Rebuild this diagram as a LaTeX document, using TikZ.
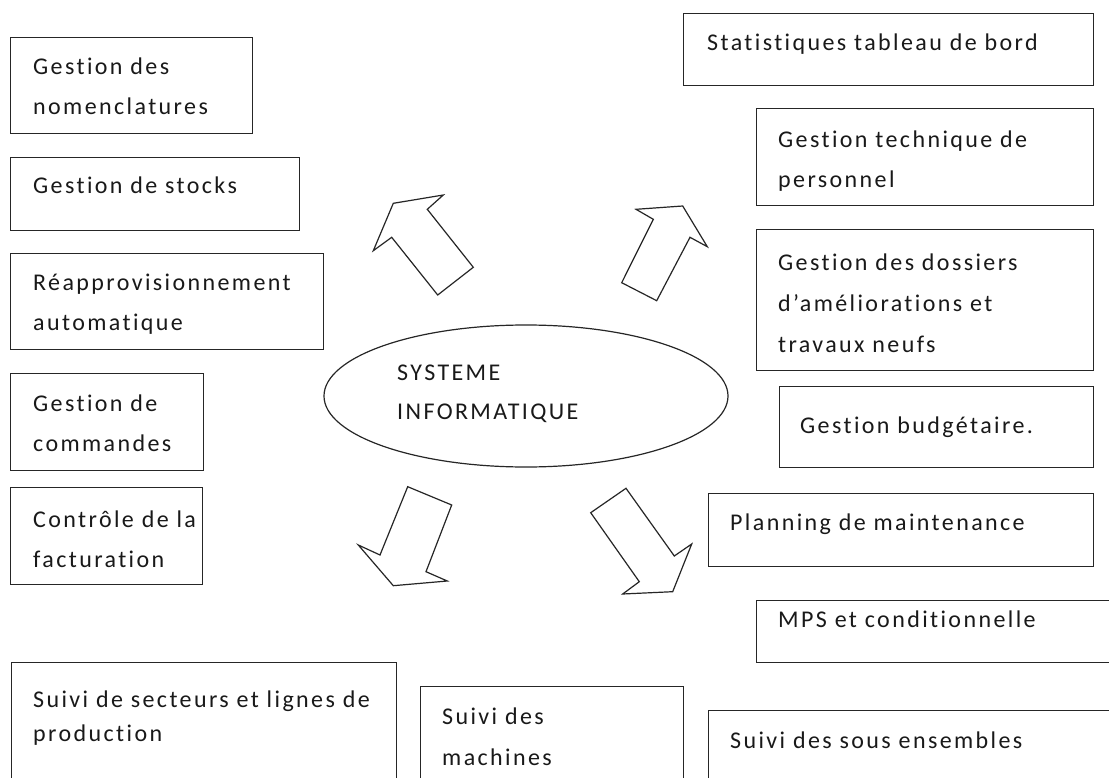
\documentclass[tikz,border=0pt]{standalone}
\usepackage{fontspec}
\setmainfont{Carlito}[LetterSpace=10, Ligatures={NoCommon}]
\usetikzlibrary{shapes.geometric}
\tikzset{
  box/.style={draw=black!85, line width=1.2pt, rectangle, inner sep=0pt, anchor=north west},
  lbl/.style={anchor=north west, inner sep=0pt, align=left, text=black!90,
              font=\fontsize{24}{#1}\selectfont},
  lbl/.default=40,
  blockarrow/.style={draw=black!85, line width=1.2pt, fill=white, line join=miter}
}
% fixed first-line height so the first baseline sits 24pt under the node top
\newcommand{\fl}{\rule{0pt}{24pt}}
\begin{document}
\begin{tikzpicture}[x=1pt, y=-1pt]
\useasboundingbox (0,0) rectangle (1109,778);
\clip (0,0) rectangle (1109,778);
\fill[white] (0,0) rectangle (1109,778);

% left column
\node[box, minimum width=242pt, minimum height=96pt] (nom) at (10,37) {};
\node[lbl] (nomt) at (33,50) {\fl Gestion des\\nomenclatures};
\node[box, minimum width=289pt, minimum height=73pt] (stk) at (10,157) {};
\node[lbl] (stkt) at (33,169) {\fl Gestion de stocks};
\node[box, minimum width=313pt, minimum height=96pt] (rea) at (10,253) {};
\node[lbl] (reat) at (33,266) {\fl Réapprovisionnement\\automatique};
\node[box, minimum width=193pt, minimum height=97pt] (cmd) at (10,373) {};
\node[lbl] (cmdt) at (33,387) {\fl Gestion de\\commandes};
\node[box, minimum width=192pt, minimum height=97pt] (fac) at (10,487) {};
\node[lbl] (fact) at (33,503) {\fl Contrôle de la\\facturation};

% bottom row
\node[box, minimum width=385pt, minimum height=140pt] (sec) at (11,662) {};
\node[lbl=34] (sect) at (33,683) {\fl Suivi de secteurs et lignes de\\production};
\node[box, minimum width=263pt, minimum height=120pt] (mac) at (420,686) {};
\node[lbl=41] (mact) at (442,700) {\fl Suivi des\\machines};
\node[box, minimum width=420pt, minimum height=100pt] (sou) at (708,710) {};
\node[lbl] (sout) at (730,724) {\fl Suivi des sous ensembles};

% right column
\node[box, minimum width=410pt, minimum height=72pt] (sta) at (683,13) {};
\node[lbl] (stat) at (707,26) {\fl Statistiques tableau de bord};
\node[box, minimum width=337pt, minimum height=97pt] (per) at (756,108) {};
\node[lbl] (pert) at (778,123) {\fl Gestion technique de\\personnel};
\node[box, minimum width=337pt, minimum height=141pt] (dos) at (756,229) {};
\node[lbl=41] (dost) at (778,246) {\fl Gestion des dossiers\\d’améliorations et\\travaux neufs};
\node[box, minimum width=314pt, minimum height=81pt] (bud) at (779,386) {};
\node[lbl] (budt) at (800,409) {\fl Gestion budgétaire.};
\node[box, minimum width=385pt, minimum height=73pt] (pla) at (708,493) {};
\node[lbl] (plat) at (730,506) {\fl Planning de maintenance};
\node[box, minimum width=360pt, minimum height=62pt] (mps) at (756,600) {};
\node[lbl] (mpst) at (778,603) {\fl MPS et conditionnelle};

% central system
\node[draw=black!85, line width=1.2pt, ellipse, minimum width=404pt, minimum height=142pt, inner sep=0pt] (sys) at (526,396) {};
\node[lbl=39] (syst) at (397,356) {\fl SYSTEME\\INFORMATIQUE};

% block arrows around the system
\draw[blockarrow] (393.3,203.3) -- (443.3,195) -- (427.3,209.3) -- (473.3,267.3)
  -- (437.7,295) -- (391.7,237.3) -- (373.3,250.7) -- cycle;
\draw[blockarrow] (636,209.3) -- (682.7,206) -- (707.3,246.7) -- (690,237.3)
  -- (656.7,300.7) -- (621.7,282.7) -- (653.3,219.3) -- cycle;
\draw[blockarrow] (407.7,486.7) -- (451.7,505) -- (426,571.7) -- (447.3,581)
  -- (393.3,585.7) -- (358.3,545) -- (380,555) -- cycle;
\draw[blockarrow] (626,488.3) -- (674.3,556) -- (691.7,544) -- (672.7,591.7)
  -- (622.7,594) -- (639.3,581.7) -- (590.7,512.7) -- cycle;
\end{tikzpicture}
\end{document}
